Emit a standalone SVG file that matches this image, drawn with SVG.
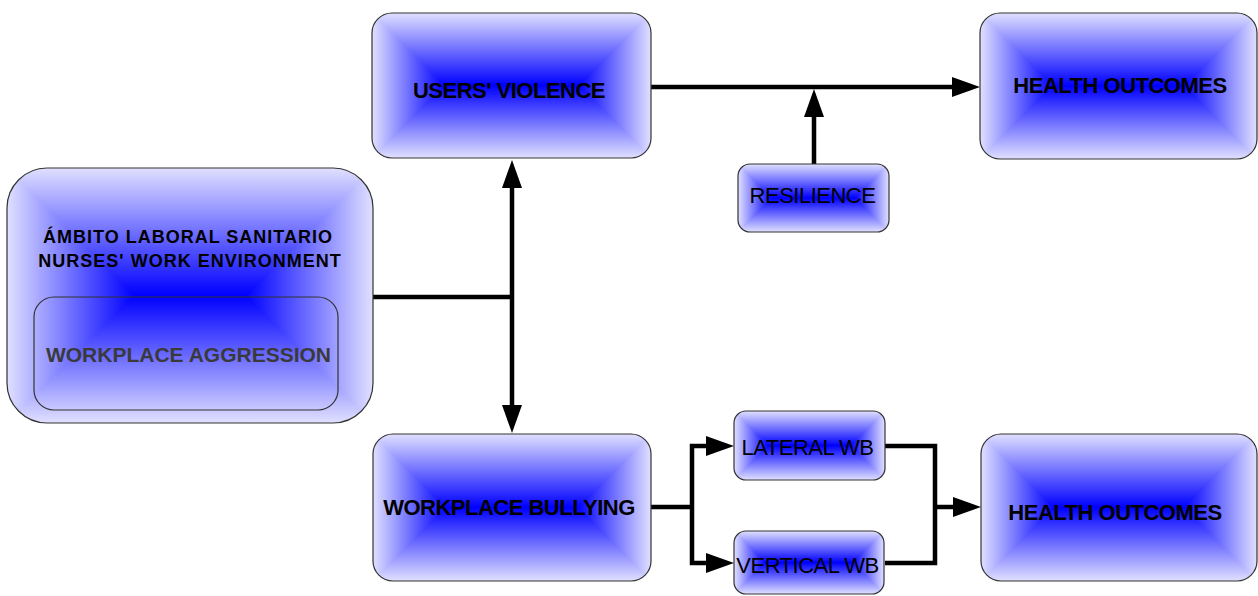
<svg xmlns="http://www.w3.org/2000/svg" width="1258" height="596" viewBox="0 0 1258 596">
<style>
.box{fill:none;stroke:#333;stroke-width:1.2}
.lbl{font-family:"Liberation Sans",Arial,sans-serif;font-size:22px;letter-spacing:-0.5px;fill:#000;text-anchor:middle}
.b{font-weight:bold}
.env{font-family:"Liberation Sans",Arial,sans-serif;font-size:18px;font-weight:bold;letter-spacing:1px;fill:#000;text-anchor:middle}
.agg{font-family:"Liberation Sans",Arial,sans-serif;font-size:21px;font-weight:bold;fill:#3a3a3a;text-anchor:middle}
.con{fill:none;stroke:#000;stroke-width:4.5;stroke-linejoin:miter}
</style>
<defs>
<linearGradient id="gv" x1="0" y1="0" x2="0" y2="1">
<stop offset="0" stop-color="#e0e0ff"/><stop offset="0.5" stop-color="#0000ff"/><stop offset="1" stop-color="#e0e0ff"/>
</linearGradient>
<linearGradient id="gl" x1="0" y1="0" x2="1" y2="0">
<stop offset="0" stop-color="#e0e0ff"/><stop offset="1" stop-color="#0000ff"/>
</linearGradient>
<linearGradient id="gr" x1="0" y1="0" x2="1" y2="0">
<stop offset="0" stop-color="#0000ff"/><stop offset="1" stop-color="#e0e0ff"/>
</linearGradient>
<marker id="arr" viewBox="0 0 28 20" refX="0" refY="10" markerWidth="28" markerHeight="20" markerUnits="userSpaceOnUse" orient="auto-start-reverse">
<path d="M0,0 L28,10 L0,20 Z" fill="#000"/>
</marker>
<clipPath id="c-uv"><rect x="372" y="13" width="279" height="145" rx="20"/></clipPath>
<clipPath id="c-ho1"><rect x="980" y="13" width="277" height="146" rx="20"/></clipPath>
<clipPath id="c-env"><rect x="7" y="168" width="366" height="255" rx="40"/></clipPath>
<clipPath id="c-wb"><rect x="373" y="434" width="278" height="147" rx="20"/></clipPath>
<clipPath id="c-ho2"><rect x="981" y="434" width="276" height="147" rx="20"/></clipPath>
<clipPath id="c-res"><rect x="738" y="164" width="151" height="68" rx="12"/></clipPath>
<clipPath id="c-lat"><rect x="734" y="411" width="151" height="69" rx="12"/></clipPath>
<clipPath id="c-ver"><rect x="734" y="531" width="150" height="63" rx="12"/></clipPath>
</defs>
<rect width="1258" height="596" fill="#fff"/>

<g id="connectors">
<path class="con" d="M651,87 H952" marker-end="url(#arr)"/>
<path class="con" d="M814,164 V117" marker-end="url(#arr)"/>
<path class="con" d="M373,297 H512"/>
<path class="con" d="M512,188 V405" marker-start="url(#arr)" marker-end="url(#arr)"/>
<path class="con" d="M651,507 H692"/>
<path class="con" d="M706,446 H692 V563 H706" marker-start="url(#arr)" marker-end="url(#arr)"/>
<path class="con" d="M885,446 H935 V563 H885"/>
<path class="con" d="M935,507 H953" marker-end="url(#arr)"/>
</g>

<g id="env">
<g clip-path="url(#c-env)">
<rect x="7" y="168" width="366" height="255" fill="url(#gv)"/>
<polygon points="7,168 134.5,295.5 7,423" fill="url(#gl)"/>
<polygon points="373,168 245.5,295.5 373,423" fill="url(#gr)"/>
</g>
<rect class="box" x="7" y="168" width="366" height="255" rx="40"/>
<text class="env" x="188" y="243">ÁMBITO LABORAL SANITARIO</text>
<text class="env" x="190" y="267">NURSES' WORK ENVIRONMENT</text>
</g>

<g id="aggression">
<rect class="box" x="34" y="297" width="304" height="113" rx="20"/>
<text class="agg" x="188.5" y="362">WORKPLACE AGGRESSION</text>
</g>

<g id="users-violence">
<g clip-path="url(#c-uv)">
<rect x="372" y="13" width="279" height="145" fill="url(#gv)"/>
<polygon points="372,13 444.5,85.5 372,158" fill="url(#gl)"/>
<polygon points="651,13 578.5,85.5 651,158" fill="url(#gr)"/>
</g>
<rect class="box" x="372" y="13" width="279" height="145" rx="20"/>
<text class="lbl b" x="509" y="98">USERS' VIOLENCE</text>
</g>

<g id="health-outcomes-1">
<g clip-path="url(#c-ho1)">
<rect x="980" y="13" width="277" height="146" fill="url(#gv)"/>
<polygon points="980,13 1053,86 980,159" fill="url(#gl)"/>
<polygon points="1257,13 1184,86 1257,159" fill="url(#gr)"/>
</g>
<rect class="box" x="980" y="13" width="277" height="146" rx="20"/>
<text class="lbl b" x="1120" y="93">HEALTH OUTCOMES</text>
</g>

<g id="resilience">
<g clip-path="url(#c-res)">
<rect x="738" y="164" width="151" height="68" fill="url(#gv)"/>
<polygon points="738,164 772,198 738,232" fill="url(#gl)"/>
<polygon points="889,164 855,198 889,232" fill="url(#gr)"/>
</g>
<rect class="box" x="738" y="164" width="151" height="68" rx="12"/>
<text class="lbl" x="812.5" y="203">RESILIENCE</text>
</g>

<g id="workplace-bullying">
<g clip-path="url(#c-wb)">
<rect x="373" y="434" width="278" height="147" fill="url(#gv)"/>
<polygon points="373,434 446.5,507.5 373,581" fill="url(#gl)"/>
<polygon points="651,434 577.5,507.5 651,581" fill="url(#gr)"/>
</g>
<rect class="box" x="373" y="434" width="278" height="147" rx="20"/>
<text class="lbl b" x="509" y="515">WORKPLACE BULLYING</text>
</g>

<g id="lateral-wb">
<g clip-path="url(#c-lat)">
<rect x="734" y="411" width="151" height="69" fill="url(#gv)"/>
<polygon points="734,411 768.5,445.5 734,480" fill="url(#gl)"/>
<polygon points="885,411 850.5,445.5 885,480" fill="url(#gr)"/>
</g>
<rect class="box" x="734" y="411" width="151" height="69" rx="12"/>
<text class="lbl" x="807.5" y="455">LATERAL WB</text>
</g>

<g id="vertical-wb">
<g clip-path="url(#c-ver)">
<rect x="734" y="531" width="150" height="63" fill="url(#gv)"/>
<polygon points="734,531 765.5,562.5 734,594" fill="url(#gl)"/>
<polygon points="884,531 852.5,562.5 884,594" fill="url(#gr)"/>
</g>
<rect class="box" x="734" y="531" width="150" height="63" rx="12"/>
<text class="lbl" x="807.5" y="573">VERTICAL WB</text>
</g>

<g id="health-outcomes-2">
<g clip-path="url(#c-ho2)">
<rect x="981" y="434" width="276" height="147" fill="url(#gv)"/>
<polygon points="981,434 1054.5,507.5 981,581" fill="url(#gl)"/>
<polygon points="1257,434 1183.5,507.5 1257,581" fill="url(#gr)"/>
</g>
<rect class="box" x="981" y="434" width="276" height="147" rx="20"/>
<text class="lbl b" x="1115" y="520">HEALTH OUTCOMES</text>
</g>
</svg>
